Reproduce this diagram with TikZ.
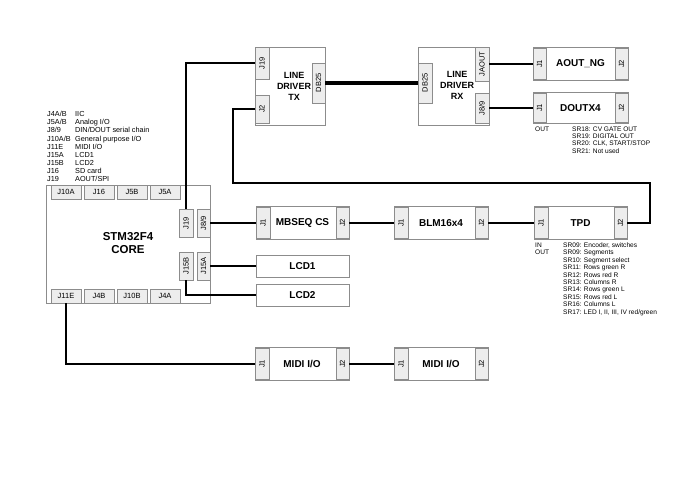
\documentclass[tikz,border=0pt]{standalone}
\usepackage{fontspec}
\setmainfont{Liberation Sans}
\usetikzlibrary{positioning}

\begin{document}
\begin{tikzpicture}[
    x=1pt, y=-1pt,
    board/.style={draw=black!45, fill=white, line width=0.7pt, inner sep=0pt, outer sep=0pt, align=center, font=\fontsize{10}{12}\selectfont\bfseries},
    tab/.style={draw=black!45, fill=black!7, line width=0.7pt, inner sep=0pt, outer sep=0pt, font=\fontsize{7.5}{8}\selectfont},
    wire/.style={draw=black, line width=1.5pt},
    note/.style={anchor=west, inner sep=0pt, align=left, font=\fontsize{6.6}{7.4}\selectfont}
]
    \useasboundingbox (0,0) rectangle (690,487);

    % --- legend ---
    \node[note, font=\fontsize{7.3}{8.1}\selectfont] (legend) at (47,146.5) {%
        \makebox[28pt][l]{J4A/B}IIC\\
        \makebox[28pt][l]{J5A/B}Analog I/O\\
        \makebox[28pt][l]{J8/9}DIN/DOUT serial chain\\
        \makebox[28pt][l]{J10A/B}General purpose I/O\\
        \makebox[28pt][l]{J11E}MIDI I/O\\
        \makebox[28pt][l]{J15A}LCD1\\
        \makebox[28pt][l]{J15B}LCD2\\
        \makebox[28pt][l]{J16}SD card\\
        \makebox[28pt][l]{J19}AOUT/SPI};

    % --- STM32F4 core ---
    \node[board, minimum width=164pt, minimum height=118pt] (core) at (128,244) {};
    \node[font=\fontsize{11.5}{12.5}\selectfont\bfseries, align=center] (corelbl) at (128,243) {STM32F4\\CORE};
    \node[tab, minimum width=30pt, minimum height=14pt] (cJ10A) at (66,192) {J10A};
    \node[tab, minimum width=30pt, minimum height=14pt] (cJ16) at (99,192) {J16};
    \node[tab, minimum width=30pt, minimum height=14pt] (cJ5B) at (132,192) {J5B};
    \node[tab, minimum width=30pt, minimum height=14pt] (cJ5A) at (165,192) {J5A};
    \node[tab, minimum width=30pt, minimum height=14pt] (cJ11E) at (66,296) {J11E};
    \node[tab, minimum width=30pt, minimum height=14pt] (cJ4B) at (99,296) {J4B};
    \node[tab, minimum width=30pt, minimum height=14pt] (cJ10B) at (132,296) {J10B};
    \node[tab, minimum width=30pt, minimum height=14pt] (cJ4A) at (165,296) {J4A};
    \node[tab, minimum width=14pt, minimum height=28pt] (cJ19) at (186,223) {\rotatebox{90}{J19}};
    \node[tab, minimum width=13pt, minimum height=28pt] (cJ89) at (203.5,223) {\rotatebox{90}{J8/9}};
    \node[tab, minimum width=14pt, minimum height=28pt] (cJ15B) at (186,266) {\rotatebox{90}{J15B}};
    \node[tab, minimum width=13pt, minimum height=28pt] (cJ15A) at (203.5,266) {\rotatebox{90}{J15A}};

    % --- line drivers ---
    \node[board, minimum width=70pt, minimum height=78pt] (tx) at (290,86) {};
    \node[font=\fontsize{9}{11}\selectfont\bfseries, align=center] (txlbl) at (294,86) {LINE\\DRIVER\\TX};
    \node[tab, minimum width=14pt, minimum height=32pt] (txJ19) at (262,63) {\rotatebox{90}{J19}};
    \node[tab, minimum width=14pt, minimum height=28pt] (txJ2) at (262,109) {\rotatebox{90}{J2}};
    \node[tab, minimum width=13pt, minimum height=40pt] (txDB) at (318.5,83) {\rotatebox{90}{DB25}};

    \node[board, minimum width=71pt, minimum height=78pt] (rx) at (453.5,86) {};
    \node[font=\fontsize{9}{11}\selectfont\bfseries, align=center] (rxlbl) at (457,85) {LINE\\DRIVER\\RX};
    \node[tab, minimum width=14pt, minimum height=40pt] (rxDB) at (425,83) {\rotatebox{90}{DB25}};
    \node[tab, minimum width=14pt, minimum height=34pt] (rxJA) at (482,64) {\rotatebox{90}{JAOUT}};
    \node[tab, minimum width=14pt, minimum height=30pt] (rxJ89) at (482,108) {\rotatebox{90}{J8/9}};

    % --- outputs ---
    \node[board, minimum width=95pt, minimum height=33pt] (aout) at (580.5,64) {AOUT\_NG};
    \node[tab, minimum width=13pt, minimum height=31pt] (aoJ1) at (539.5,64) {\rotatebox{90}{J1}};
    \node[tab, minimum width=13pt, minimum height=31pt] (aoJ2) at (621.5,64) {\rotatebox{90}{J2}};

    \node[board, minimum width=95pt, minimum height=31pt] (dout) at (580.5,108) {DOUTX4};
    \node[tab, minimum width=13pt, minimum height=29pt] (doJ1) at (539.5,108) {\rotatebox{90}{J1}};
    \node[tab, minimum width=13pt, minimum height=29pt] (doJ2) at (621.5,108) {\rotatebox{90}{J2}};
    \node[note] (doutio) at (535,129) {OUT};
    \node[note] (doutsr) at (572,140) {SR18: CV GATE OUT\\SR19: DIGITAL OUT\\SR20: CLK, START/STOP\\SR21: Not used};

    % --- control surface chain ---
    \node[board, minimum width=93pt, minimum height=33pt] (cs) at (302.5,223) {MBSEQ CS};
    \node[tab, minimum width=14pt, minimum height=31pt] (csJ1) at (263,223) {\rotatebox{90}{J1}};
    \node[tab, minimum width=13pt, minimum height=31pt] (csJ2) at (342.5,223) {\rotatebox{90}{J2}};

    \node[board, minimum width=94pt, minimum height=33pt] (blm) at (441,223) {BLM16x4};
    \node[tab, minimum width=14pt, minimum height=31pt] (blmJ1) at (401,223) {\rotatebox{90}{J1}};
    \node[tab, minimum width=13pt, minimum height=31pt] (blmJ2) at (481.5,223) {\rotatebox{90}{J2}};

    \node[board, minimum width=93pt, minimum height=33pt] (tpd) at (580.5,223) {TPD};
    \node[tab, minimum width=14pt, minimum height=31pt] (tpdJ1) at (541,223) {\rotatebox{90}{J1}};
    \node[tab, minimum width=13pt, minimum height=31pt] (tpdJ2) at (620.5,223) {\rotatebox{90}{J2}};
    \node[note] (tpdio) at (535,248.5) {IN\\OUT};
    \node[note] (tpdsr) at (563,279) {SR09: Encoder, switches\\SR09: Segments\\SR10: Segment select\\SR11: Rows green R\\SR12: Rows red R\\SR13: Columns R\\SR14: Rows green L\\SR15: Rows red L\\SR16: Columns L\\SR17: LED I, II, III, IV red/green};

    % --- displays ---
    \node[board, minimum width=93pt, minimum height=22pt] (lcd1) at (302.5,266) {LCD1};
    \node[board, minimum width=93pt, minimum height=22pt] (lcd2) at (302.5,295) {LCD2};

    % --- MIDI ---
    \node[board, minimum width=94pt, minimum height=33pt] (midiA) at (302,364) {MIDI I/O};
    \node[tab, minimum width=14pt, minimum height=31pt] (miAJ1) at (262,364) {\rotatebox{90}{J1}};
    \node[tab, minimum width=13pt, minimum height=31pt] (miAJ2) at (342.5,364) {\rotatebox{90}{J2}};

    \node[board, minimum width=94pt, minimum height=33pt] (midiB) at (441,364) {MIDI I/O};
    \node[tab, minimum width=14pt, minimum height=31pt] (miBJ1) at (401,364) {\rotatebox{90}{J1}};
    \node[tab, minimum width=13pt, minimum height=31pt] (miBJ2) at (481.5,364) {\rotatebox{90}{J2}};

    % --- wiring ---
    \coordinate (loopA) at (233,183);
    \coordinate (loopB) at (650,183);
    \draw[wire] (cJ19.north) |- (txJ19.west);
    \draw[wire] (txJ2.west) -| (loopA) -- (loopB) |- (tpdJ2.east);
    \draw[draw=black, line width=3.5pt] (txDB.east) -- (rxDB.west);
    \draw[wire] (rxJA.east) -- (aoJ1.west);
    \draw[wire] (rxJ89.east) -- (doJ1.west);
    \draw[wire] (cJ89.east) -- (csJ1.west);
    \draw[wire] (csJ2.east) -- (blmJ1.west);
    \draw[wire] (blmJ2.east) -- (tpdJ1.west);
    \draw[wire] (cJ15A.east) -- (lcd1.west);
    \draw[wire] (cJ15B.south) |- (lcd2.west);
    \draw[wire] (cJ11E.south) |- (miAJ1.west);
    \draw[wire] (miAJ2.east) -- (miBJ1.west);
\end{tikzpicture}
\end{document}
